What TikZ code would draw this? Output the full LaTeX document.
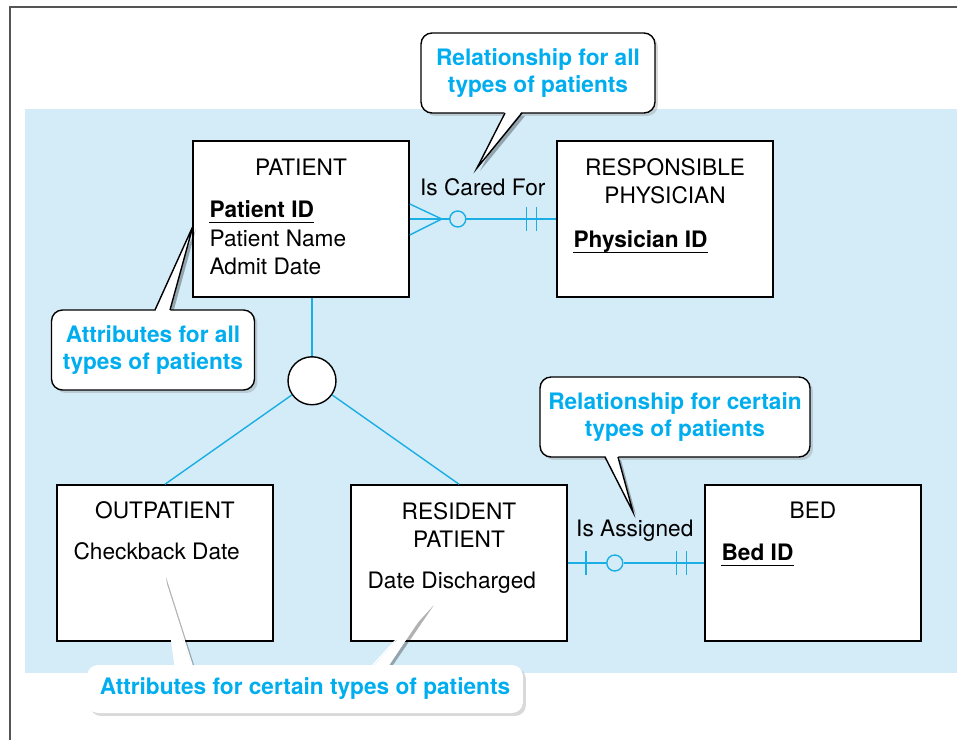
\documentclass[tikz,border=0pt]{standalone}
\usepackage{fontspec}
\setmainfont{TeX Gyre Heros}
\usetikzlibrary{positioning,calc,shadows}

\definecolor{erblue}{HTML}{D4ECF8}
\definecolor{ercyan}{HTML}{1AAEE5}
\definecolor{callcyan}{HTML}{00AEEF}
\definecolor{framegray}{HTML}{555555}

\begin{document}
\begin{tikzpicture}[
  x=0.02cm, y=-0.02cm,
  entity/.style={rectangle, draw, fill=white, line width=0.9pt, minimum width=4.32cm, minimum height=3.12cm, inner sep=0pt},
  etitle/.style={align=center, font=\fontsize{12.9}{16}\selectfont, inner sep=0pt},
  attr/.style={anchor=base west, font=\fontsize{12.9}{16}\selectfont, inner sep=0pt},
  pkey/.style={attr, font=\fontsize{12.9}{16}\selectfont\bfseries, text depth=0pt, inner ysep=2.6pt},
  rel/.style={ercyan, line width=0.8pt},
  relname/.style={font=\fontsize{12.9}{16}\selectfont, inner sep=0pt},
  optc/.style={circle, draw=ercyan, fill=erblue, line width=0.8pt, minimum size=0.32cm, inner sep=0pt},
  isa/.style={circle, draw, fill=white, line width=0.8pt, minimum size=0.96cm, inner sep=0pt},
  callbox/.style={rectangle, rounded corners=0.22cm, draw, fill=white, line width=0.8pt, align=center,
    text=callcyan, font=\fontsize{12.9}{15.5}\selectfont\bfseries,
    drop shadow={shadow xshift=1.7pt, shadow yshift=-1.7pt, opacity=0.3}}
]
\useasboundingbox (0,0) rectangle (957,740);
\draw[framegray, line width=1.2pt] (10,740) -- (10,7) -- (957,7);
\fill[erblue] (25,109) rectangle (957,673);

\node[entity] (patient) at (301,219) {};
\node[entity, right=2.93cm of patient] (physician) {};
\node[entity] (outpatient) at (165,563) {};
\node[entity, right=1.53cm of outpatient] (resident) {};
\node[entity, right=2.73cm of resident] (bed) {};

\node[etitle] (tpatient) at ($(patient.north)+(0,27)$) {PATIENT};
\node[pkey] (pid) at ($(patient.north west)+(17,77.5)$) {Patient ID};
\node[attr] (pname) at ($(patient.north west)+(17,106.5)$) {Patient Name};
\node[attr] (padmit) at ($(patient.north west)+(17,134.5)$) {Admit Date};

\node[etitle] (tphysician) at ($(physician.north)+(0,41)$) {RESPONSIBLE\\PHYSICIAN};
\node[pkey] (phid) at ($(physician.north west)+(17,107.5)$) {Physician ID};

\node[etitle] (toutpatient) at ($(outpatient.north)+(0,26)$) {OUTPATIENT};
\node[attr] (ocheck) at ($(outpatient.north west)+(17,75.5)$) {Checkback Date};

\node[etitle] (tresident) at ($(resident.north)+(0,40.5)$) {RESIDENT\\PATIENT};
\node[attr] (rdis) at ($(resident.north west)+(17,104.5)$) {Date Discharged};

\node[etitle] (tbed) at ($(bed.north)+(0,26)$) {BED};
\node[pkey] (bid) at ($(bed.north west)+(17,76.5)$) {Bed ID};

\draw[line width=0.8pt] (pid.south west) -- (pid.south east);
\draw[line width=0.8pt] (phid.south west) -- (phid.south east);
\draw[line width=0.8pt] (bid.south west) -- (bid.south east);

% Is Cared For
\node[optc] (c1) at ($(patient.east)+(48,0)$) {};
\node[relname] (caredfor) at ($(c1)+(25,-32)$) {Is Cared For};
\draw[rel] (patient.east) -- (c1);
\draw[rel] (c1) -- (physician.west);
\draw[rel] ($(patient.east)+(0,-15)$) -- ($(patient.east)+(32,0)$) -- ($(patient.east)+(0,16)$);
\draw[rel] ($(physician.west)+(-30,-12)$) -- ++(0,24);
\draw[rel] ($(physician.west)+(-20,-12)$) -- ++(0,24);

% Is Assigned
\node[optc] (c2) at ($(resident.east)+(47,0)$) {};
\node[relname] (assigned) at ($(c2)+(20,-32)$) {Is Assigned};
\draw[rel] (resident.east) -- (c2);
\draw[rel] (c2) -- (bed.west);
\draw[rel] ($(resident.east)+(18,-12)$) -- ++(0,24);
\draw[rel] ($(bed.west)+(-28,-12)$) -- ++(0,24);
\draw[rel] ($(bed.west)+(-18,-12)$) -- ++(0,24);

% subtypes
\node[isa] (isa) at ($(patient.south)+(11,83)$) {};
\draw[rel] (isa.north |- patient.south) -- (isa.north);
\draw[rel] (isa) -- (outpatient.north);
\draw[rel] (isa) -- (resident.north);

% callouts
\foreach \ax/\ay/\tx/\ty/\bx/\by in {505/113/477/168/522/113, 155/310/193/226/170/310,
    605/457/633/512/618/457, 175/665/163/574/192/665, 373/665/431/602/388/665}
  \fill[black, opacity=0.3] (\ax+3,\ay+3) -- (\tx+3,\ty+3) -- (\bx+3,\by+3) -- cycle;

\node[callbox, minimum width=4.68cm, minimum height=1.6cm] (relall) at (538,73) {Relationship for all\\types of patients};
\node[callbox, minimum width=4.06cm, minimum height=1.6cm] (attall) at (153,350) {Attributes for all\\types of patients};
\node[callbox, minimum width=5.4cm, minimum height=1.6cm] (relcert) at (675,417) {Relationship for certain\\types of patients};
\node[callbox, draw=none, minimum width=8.72cm, minimum height=0.96cm] (attcert) at (305,689) {Attributes for certain types of patients};

\foreach \ax/\ay/\tx/\ty/\bx/\by/\d/\e in {505/113/477/168/522/113/-1/black, 155/310/193/226/170/310/1/black,
    605/457/633/512/618/457/-1/black, 175/665/163/574/192/665/1/white, 373/665/431/602/388/665/1/white}
{
  \fill[white] (\ax,\ay+2*\d) -- (\tx,\ty) -- (\bx,\by+2*\d) -- cycle;
  \draw[\e, line width=0.8pt, line join=miter] (\ax,\ay) -- (\tx,\ty) -- (\bx,\by);
}
\end{tikzpicture}
\end{document}
